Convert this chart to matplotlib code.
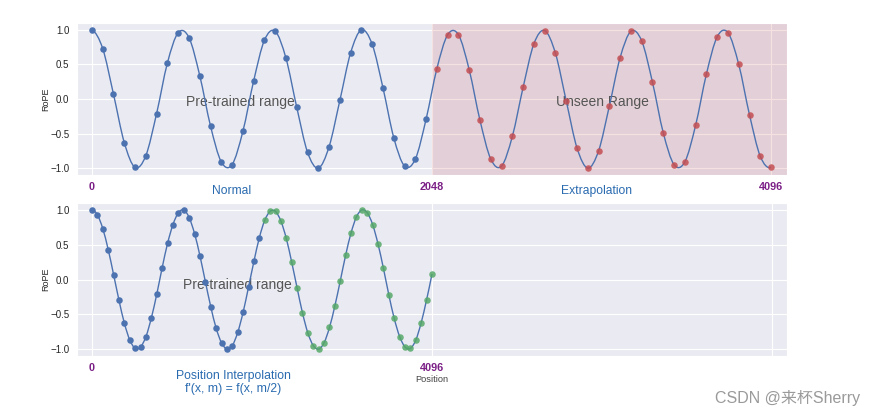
import numpy as np
import matplotlib.pyplot as plt
import seaborn as sns
from matplotlib.path import Path
from matplotlib.patches import PathPatch

# RoPE value at each dot, 64 dots per panel
rope_top = [1.00, 0.73, 0.07, -0.63, -0.99, -0.82, -0.21, 0.52, 0.96, 0.89,
            0.34, -0.39, -0.91, -0.95, -0.47, 0.26, 0.85, 0.98, 0.59, -0.12,
            -0.77, -1.00, -0.69, -0.02, 0.67, 1.00, 0.79, 0.16, -0.56, -0.97,
            -0.87, -0.29, 0.44, 0.93, 0.93, 0.42, -0.31, -0.87, -0.97, -0.54,
            0.17, 0.80, 0.99, 0.66, -0.03, -0.71, -1.00, -0.75, -0.10, 0.60,
            0.98, 0.84, 0.24, -0.49, -0.95, -0.91, -0.38, 0.36, 0.90, 0.96,
            0.50, -0.23, -0.83, -0.99]
rope_bottom = [1.00, 0.93, 0.73, 0.43, 0.07, -0.30, -0.63, -0.87, -0.99, -0.97,
               -0.82, -0.55, -0.21, 0.17, 0.52, 0.79, 0.96, 1.00, 0.89, 0.66,
               0.34, -0.03, -0.39, -0.70, -0.91, -1.00, -0.95, -0.76, -0.47, -0.11,
               0.26, 0.60, 0.85, 0.98, 0.98, 0.84, 0.59, 0.25, -0.12, -0.48,
               -0.77, -0.95, -1.00, -0.91, -0.69, -0.38, -0.02, 0.35, 0.67, 0.90,
               1.00, 0.96, 0.79, 0.51, 0.16, -0.22, -0.56, -0.82, -0.97, -0.99,
               -0.87, -0.62, -0.29, 0.08]

max_pos = 4096
pretrained_end = 2048
top_ticks = [0, 2048, 4096]
top_tick_labels = ['0', '2048', '4096']
bottom_ticks = [0, 4096, 8192]
bottom_tick_labels = ['0', '4096', '']
y_ticks = [-1.0, -0.5, 0.0, 0.5, 1.0]

blue = '#4C72B0'
red = '#C44E52'
green = '#55A868'
purple = '#7b1f86'
txt_blue = '#2a6bb0'

sns.set_style('darkgrid')
plt.rcParams['font.family'] = ['Liberation Sans', 'DejaVu Sans']


def smooth_path(xs, ys):
    # smooth curve through the dots (Catmull-Rom as cubic bezier segments)
    pts = np.column_stack([xs, ys])
    first = 3 * pts[0] - 3 * pts[1] + pts[2]
    last = 3 * pts[-1] - 3 * pts[-2] + pts[-3]
    ext = np.vstack([first, pts, last])
    verts = [pts[0]]
    codes = [Path.MOVETO]
    for i in range(1, len(ext) - 2):
        verts.append(ext[i] + (ext[i + 1] - ext[i - 1]) / 6)
        verts.append(ext[i + 1] - (ext[i + 2] - ext[i]) / 6)
        verts.append(ext[i + 1])
        codes += [Path.CURVE4] * 3
    return Path(verts, codes)


def draw_panel(ax, vals, late_color):
    pos = np.linspace(0, max_pos, len(vals))
    vals = np.array(vals)
    ax.add_patch(PathPatch(smooth_path(pos, vals), fill=False, edgecolor=blue,
                           lw=1.0, zorder=2))
    early = pos < pretrained_end
    ax.scatter(pos[early], vals[early], s=22, color=blue, zorder=3, lw=0)
    ax.scatter(pos[~early], vals[~early], s=22, color=late_color, alpha=0.85,
               zorder=3, lw=0)
    ax.set_ylim(-1.1, 1.1)
    ax.set_yticks(y_ticks)
    ax.set_ylabel('RoPE', fontsize=6.5)
    ax.yaxis.set_label_coords(-0.038, 0.5)
    ax.tick_params(axis='y', labelsize=7, length=0, pad=5.5, labelcolor='#262626')
    ax.tick_params(axis='x', labelsize=7.8, length=0, pad=5, labelcolor=purple)
    for lab in ax.get_xticklabels():
        lab.set_fontweight('bold')


fig = plt.figure(figsize=(8.76, 4.17), dpi=100)
ax1 = fig.add_axes([77 / 876, 1 - 175 / 417, 710 / 876, 152 / 417])
ax2 = fig.add_axes([77 / 876, 1 - 356 / 417, 710 / 876, 153 / 417])

# top panel: normal range + extrapolation
ax1.set_xlim(-90, 4192)
ax1.set_xticks(top_ticks)
ax1.set_xticklabels(top_tick_labels)
draw_panel(ax1, rope_top, red)
ax1.axvspan(pretrained_end, ax1.get_xlim()[1], color=red, alpha=0.17, lw=0, zorder=1)
ax1.text(893, -0.05, 'Pre-trained range', fontsize=10, color='#555555',
         ha='center', va='center', zorder=1.5)
ax1.text(3076, -0.05, 'Unseen Range', fontsize=10, color='#555555',
         ha='center', va='center', zorder=1.5)
tr1 = ax1.get_xaxis_transform()
ax1.text(844, -0.105, 'Normal', transform=tr1, fontsize=8.7, color=txt_blue,
         ha='center', va='center')
ax1.text(3046, -0.105, 'Extrapolation', transform=tr1, fontsize=8.7,
         color=txt_blue, ha='center', va='center')

# bottom panel: position interpolation
ax2.set_xlim(-181, 8373)
ax2.set_xticks(bottom_ticks)
ax2.set_xticklabels(bottom_tick_labels)
draw_panel(ax2, rope_bottom, green)
ax2.text(1749, -0.08, 'Pre-trained range', fontsize=10, color='#555555',
         ha='center', va='center', zorder=1.5)
tr2 = ax2.get_xaxis_transform()
ax2.text(1701, -0.176, "Position Interpolation\nf'(x, m) = f(x, m/2)",
         transform=tr2, fontsize=8.8, color=txt_blue, ha='center', va='center',
         linespacing=1.1)
ax2.text(4096, -0.156, 'Position', transform=tr2, fontsize=6.7, color='#444444',
         ha='center', va='center')

fig.text(860 / 876, 1 - 398 / 417, 'CSDN @来杯Sherry', fontsize=11.5,
         color='#9a9a9a', ha='right', va='center',
         family=['Liberation Sans', 'Noto Sans CJK SC'])

fig.savefig('out.png', dpi=100)
